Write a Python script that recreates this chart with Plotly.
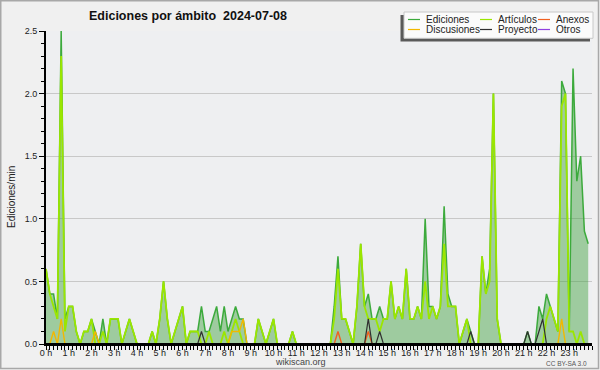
import plotly.graph_objects as go

# ---------------- data (10-minute steps, edits per minute) ----------------
hour_labels = ["0 h", "1 h", "2 h", "3 h", "4 h", "5 h", "6 h", "7 h", "8 h", "9 h",
               "10 h", "11 h", "12 h", "13 h", "14 h", "15 h", "16 h", "17 h", "18 h",
               "19 h", "20 h", "21 h", "22 h", "23 h"]

series_names = ["Ediciones", "Artículos", "Anexos", "Discusiones", "Proyecto", "Otros"]

ediciones = [
    0.6, 0.4, 0.4, 0.2, 2.5, 0.2,  0.3, 0.3, 0.1, 0.0, 0.1, 0.1,
    0.2, 0.1, 0.0, 0.2, 0.0, 0.2,  0.2, 0.2, 0.0, 0.1, 0.2, 0.1,
    0.0, 0.0, 0.0, 0.0, 0.1, 0.0,  0.2, 0.5, 0.2, 0.0, 0.1, 0.2,
    0.3, 0.0, 0.1, 0.1, 0.1, 0.3,  0.1, 0.1, 0.2, 0.3, 0.1, 0.3,
    0.1, 0.2, 0.3, 0.2, 0.2, 0.0,  0.0, 0.0, 0.2, 0.1, 0.0, 0.1,
    0.2, 0.0, 0.0, 0.0, 0.0, 0.1,  0.0, 0.0, 0.0, 0.0, 0.0, 0.0,
    0.0, 0.0, 0.0, 0.0, 0.3, 0.7,  0.2, 0.2, 0.1, 0.0, 0.3, 0.8,
    0.3, 0.4, 0.2, 0.2, 0.3, 0.2,  0.2, 0.5, 0.2, 0.3, 0.2, 0.6,
    0.2, 0.2, 0.3, 0.2, 1.0, 0.3,  0.3, 0.2, 0.3, 1.1, 0.4, 0.3,
    0.3, 0.0, 0.1, 0.2, 0.1, 0.0,  0.0, 0.7, 0.4, 0.6, 2.0, 0.2,
    0.0, 0.0, 0.0, 0.0, 0.0, 0.0,  0.0, 0.1, 0.0, 0.0, 0.3, 0.2,
    0.4, 0.3, 0.2, 0.1, 2.1, 2.0,  0.1, 2.2, 1.3, 1.5, 0.9, 0.8,
]

articulos = [
    0.6, 0.4, 0.3, 0.2, 2.3, 0.1,  0.3, 0.3, 0.1, 0.0, 0.1, 0.1,
    0.2, 0.0, 0.0, 0.1, 0.0, 0.2,  0.2, 0.2, 0.0, 0.1, 0.2, 0.1,
    0.0, 0.0, 0.0, 0.0, 0.1, 0.0,  0.2, 0.5, 0.2, 0.0, 0.1, 0.2,
    0.3, 0.0, 0.1, 0.1, 0.1, 0.0,  0.0, 0.1, 0.0, 0.0, 0.0, 0.1,
    0.0, 0.1, 0.2, 0.1, 0.0, 0.0,  0.0, 0.0, 0.2, 0.1, 0.0, 0.1,
    0.2, 0.0, 0.0, 0.0, 0.0, 0.1,  0.0, 0.0, 0.0, 0.0, 0.0, 0.0,
    0.0, 0.0, 0.0, 0.0, 0.2, 0.6,  0.2, 0.2, 0.1, 0.0, 0.3, 0.8,
    0.3, 0.2, 0.2, 0.2, 0.1, 0.2,  0.2, 0.5, 0.2, 0.3, 0.2, 0.6,
    0.2, 0.2, 0.3, 0.2, 0.5, 0.2,  0.3, 0.2, 0.3, 0.8, 0.3, 0.3,
    0.3, 0.0, 0.1, 0.2, 0.0, 0.0,  0.0, 0.7, 0.4, 0.5, 2.0, 0.2,
    0.0, 0.0, 0.0, 0.0, 0.0, 0.0,  0.0, 0.0, 0.0, 0.0, 0.0, 0.0,
    0.2, 0.3, 0.2, 0.1, 1.9, 2.0,  0.1, 0.1, 0.0, 0.1, 0.0, 0.0,
]

anexos = [
    0.0, 0.0, 0.0, 0.0, 0.0, 0.0,  0.0, 0.0, 0.0, 0.0, 0.0, 0.0,
    0.0, 0.0, 0.0, 0.0, 0.0, 0.0,  0.0, 0.0, 0.0, 0.0, 0.0, 0.0,
    0.0, 0.0, 0.0, 0.0, 0.0, 0.0,  0.0, 0.0, 0.0, 0.0, 0.0, 0.0,
    0.0, 0.0, 0.0, 0.0, 0.0, 0.0,  0.0, 0.0, 0.0, 0.0, 0.0, 0.0,
    0.0, 0.0, 0.0, 0.0, 0.0, 0.0,  0.0, 0.0, 0.0, 0.0, 0.0, 0.0,
    0.0, 0.0, 0.0, 0.0, 0.0, 0.0,  0.0, 0.0, 0.0, 0.0, 0.0, 0.0,
    0.0, 0.0, 0.0, 0.0, 0.0, 0.1,  0.0, 0.0, 0.0, 0.0, 0.0, 0.0,
    0.0, 0.1, 0.0, 0.0, 0.0, 0.0,  0.0, 0.0, 0.0, 0.0, 0.0, 0.0,
    0.0, 0.0, 0.0, 0.0, 0.0, 0.0,  0.0, 0.0, 0.0, 0.0, 0.0, 0.0,
    0.0, 0.0, 0.0, 0.0, 0.0, 0.0,  0.0, 0.0, 0.0, 0.0, 0.0, 0.0,
    0.0, 0.0, 0.0, 0.0, 0.0, 0.0,  0.0, 0.0, 0.0, 0.0, 0.0, 0.0,
    0.0, 0.0, 0.0, 0.0, 0.0, 0.0,  0.0, 0.0, 0.0, 0.0, 0.0, 0.0,
]

discusiones = [
    0.0, 0.0, 0.1, 0.0, 0.2, 0.0,  0.0, 0.0, 0.0, 0.0, 0.0, 0.0,
    0.0, 0.1, 0.0, 0.0, 0.0, 0.0,  0.0, 0.0, 0.0, 0.0, 0.0, 0.0,
    0.0, 0.0, 0.0, 0.0, 0.0, 0.0,  0.0, 0.0, 0.0, 0.0, 0.0, 0.0,
    0.0, 0.0, 0.0, 0.0, 0.0, 0.0,  0.0, 0.0, 0.0, 0.0, 0.0, 0.0,
    0.0, 0.1, 0.1, 0.1, 0.2, 0.0,  0.0, 0.0, 0.0, 0.0, 0.0, 0.0,
    0.0, 0.0, 0.0, 0.0, 0.0, 0.0,  0.0, 0.0, 0.0, 0.0, 0.0, 0.0,
    0.0, 0.0, 0.0, 0.0, 0.0, 0.0,  0.0, 0.0, 0.0, 0.0, 0.0, 0.0,
    0.0, 0.0, 0.0, 0.0, 0.0, 0.0,  0.0, 0.0, 0.0, 0.0, 0.0, 0.0,
    0.0, 0.0, 0.0, 0.0, 0.0, 0.0,  0.0, 0.0, 0.0, 0.0, 0.0, 0.0,
    0.0, 0.0, 0.0, 0.0, 0.0, 0.0,  0.0, 0.0, 0.0, 0.0, 0.0, 0.0,
    0.0, 0.0, 0.0, 0.0, 0.0, 0.0,  0.0, 0.0, 0.0, 0.0, 0.0, 0.0,
    0.0, 0.0, 0.0, 0.0, 0.2, 0.0,  0.0, 0.0, 0.0, 0.0, 0.0, 0.0,
]

proyecto = [
    0.0, 0.0, 0.0, 0.0, 0.0, 0.0,  0.0, 0.0, 0.0, 0.0, 0.0, 0.0,
    0.0, 0.0, 0.0, 0.0, 0.0, 0.0,  0.0, 0.0, 0.0, 0.0, 0.0, 0.0,
    0.0, 0.0, 0.0, 0.0, 0.0, 0.0,  0.0, 0.0, 0.0, 0.0, 0.0, 0.0,
    0.0, 0.0, 0.0, 0.0, 0.0, 0.1,  0.0, 0.0, 0.0, 0.0, 0.0, 0.0,
    0.0, 0.0, 0.0, 0.0, 0.0, 0.0,  0.0, 0.0, 0.0, 0.0, 0.0, 0.0,
    0.0, 0.0, 0.0, 0.0, 0.0, 0.0,  0.0, 0.0, 0.0, 0.0, 0.0, 0.0,
    0.0, 0.0, 0.0, 0.0, 0.0, 0.0,  0.0, 0.0, 0.0, 0.0, 0.0, 0.0,
    0.0, 0.2, 0.0, 0.0, 0.1, 0.0,  0.0, 0.0, 0.0, 0.0, 0.0, 0.0,
    0.0, 0.0, 0.0, 0.0, 0.0, 0.0,  0.0, 0.0, 0.0, 0.0, 0.0, 0.0,
    0.0, 0.0, 0.0, 0.0, 0.1, 0.0,  0.0, 0.0, 0.0, 0.0, 0.0, 0.0,
    0.0, 0.0, 0.0, 0.0, 0.0, 0.0,  0.0, 0.1, 0.0, 0.0, 0.1, 0.2,
    0.0, 0.0, 0.0, 0.0, 0.0, 0.0,  0.0, 0.0, 0.0, 0.0, 0.0, 0.0,
]

otros = [
    0.0, 0.0, 0.0, 0.0, 0.0, 0.0,  0.0, 0.0, 0.0, 0.0, 0.0, 0.0,
    0.0, 0.0, 0.0, 0.0, 0.0, 0.0,  0.0, 0.0, 0.0, 0.0, 0.0, 0.0,
    0.0, 0.0, 0.0, 0.0, 0.0, 0.0,  0.0, 0.0, 0.0, 0.0, 0.0, 0.0,
    0.0, 0.0, 0.0, 0.0, 0.0, 0.0,  0.0, 0.0, 0.0, 0.0, 0.0, 0.0,
    0.0, 0.0, 0.0, 0.0, 0.0, 0.0,  0.0, 0.0, 0.0, 0.0, 0.0, 0.0,
    0.0, 0.0, 0.0, 0.0, 0.0, 0.0,  0.0, 0.0, 0.0, 0.0, 0.0, 0.0,
    0.0, 0.0, 0.0, 0.0, 0.0, 0.0,  0.0, 0.0, 0.0, 0.0, 0.0, 0.0,
    0.0, 0.0, 0.0, 0.0, 0.0, 0.0,  0.0, 0.0, 0.0, 0.0, 0.0, 0.0,
    0.0, 0.0, 0.0, 0.0, 0.0, 0.0,  0.0, 0.0, 0.0, 0.0, 0.0, 0.0,
    0.0, 0.0, 0.0, 0.0, 0.0, 0.0,  0.0, 0.0, 0.0, 0.0, 0.0, 0.0,
    0.0, 0.0, 0.0, 0.0, 0.0, 0.0,  0.0, 0.0, 0.0, 0.0, 0.0, 0.0,
    0.0, 0.0, 0.0, 0.0, 0.0, 0.0,  0.0, 0.0, 0.0, 0.0, 0.0, 0.0,
]

# time axis: minutes since midnight, one sample every 10 minutes
minutes = [10 * k for k in range(len(ediciones))]
hour_ticks = [60 * h for h in range(len(hour_labels))]

# ---------------- styling ----------------
W, H = 600, 370
L, R, T, B = 46, 8, 31, 26
PW, PH = W - L - R, H - T - B


def px(x):
    return (x - L) / PW


def py(y):
    return (H - B - y) / PH


COLORS = {
    "Ediciones": "#3caa3c",
    "Artículos": "#9be600",
    "Anexos": "#f06020",
    "Discusiones": "#f2b800",
    "Proyecto": "#303030",
    "Otros": "#9040e0",
}
FILL_ED = "rgba(60,160,60,0.45)"
FONT = "Liberation Sans"

values = {
    "Ediciones": ediciones,
    "Artículos": articulos,
    "Anexos": anexos,
    "Discusiones": discusiones,
    "Proyecto": proyecto,
    "Otros": otros,
}

fig = go.Figure()
fig.add_trace(go.Scatter(
    x=minutes, y=ediciones, name="Ediciones", mode="lines",
    line=dict(color=COLORS["Ediciones"], width=1.5),
    fill="tozeroy", fillcolor=FILL_ED, hoverinfo="skip", showlegend=False))

draw_order = [("Artículos", 1.8), ("Discusiones", 1.4), ("Anexos", 1.4),
              ("Proyecto", 1.2), ("Otros", 1.2)]
for name, w in draw_order:
    fig.add_trace(go.Scatter(
        x=minutes, y=values[name], name=name, mode="lines",
        line=dict(color=COLORS[name], width=w),
        hoverinfo="skip", showlegend=False))

shapes = []
annotations = []

# baseline above traces (hides zero segments, like the axis in the reference)
shapes.append(dict(type="line", xref="paper", yref="y", x0=0, x1=1, y0=0, y1=0,
                   line=dict(color="#000", width=2), layer="above"))

# outer border
shapes.append(dict(type="rect", xref="paper", yref="paper",
                   x0=px(0.75), x1=px(598.5), y0=py(0.75), y1=py(368.5),
                   line=dict(color="#a8a8a8", width=1.5), fillcolor="rgba(0,0,0,0)",
                   layer="below"))

# legend box with shadow
shapes.append(dict(type="rect", xref="paper", yref="paper",
                   x0=px(400.5), x1=px(590), y0=py(15), y1=py(41.5),
                   line=dict(width=0), fillcolor="#5a5a5a", layer="above"))
shapes.append(dict(type="rect", xref="paper", yref="paper",
                   x0=px(404), x1=px(593), y0=py(12), y1=py(38.3),
                   line=dict(color="#c8c8c8", width=1), fillcolor="#fbfbfb", layer="above"))

legend_layout = [
    ("Ediciones", 408, 19.5), ("Artículos", 480, 19.5), ("Anexos", 538, 19.5),
    ("Discusiones", 408, 29.5), ("Proyecto", 480, 29.5), ("Otros", 538, 29.5),
]
for name, lx, ly in legend_layout:
    shapes.append(dict(type="line", xref="paper", yref="paper",
                       x0=px(lx), x1=px(lx + 12), y0=py(ly), y1=py(ly),
                       line=dict(color=COLORS[name], width=1.2), layer="above"))
    annotations.append(dict(text=name, xref="paper", yref="paper",
                            x=px(lx + 16), y=py(ly), xanchor="left", yanchor="middle",
                            showarrow=False, font=dict(family=FONT, size=10, color="#222")))

# title
annotations.append(dict(text="<b>Ediciones por ámbito&nbsp; 2024-07-08</b>",
                        xref="paper", yref="paper", x=px(188), y=py(16),
                        xanchor="center", yanchor="middle", showarrow=False,
                        font=dict(family=FONT, size=12.5, color="#111")))
# y axis title
annotations.append(dict(text="Ediciones/min", xref="paper", yref="paper",
                        x=px(11), y=py(197), xanchor="center", yanchor="middle",
                        textangle=-90, showarrow=False,
                        font=dict(family=FONT, size=10, color="#222")))
# footer
annotations.append(dict(text="wikiscan.org", xref="paper", yref="paper",
                        x=px(300), y=py(362), xanchor="center", yanchor="middle",
                        showarrow=False, font=dict(family=FONT, size=9, color="#444")))
annotations.append(dict(text="CC BY-SA 3.0", xref="paper", yref="paper",
                        x=px(589), y=py(363), xanchor="right", yanchor="middle",
                        showarrow=False, font=dict(family=FONT, size=6.5, color="#555")))

fig.update_layout(
    width=W, height=H,
    margin=dict(l=L, r=R, t=T, b=B, pad=0),
    paper_bgcolor="#f0f0f0", plot_bgcolor="#eeeff1",
    showlegend=False,
    font=dict(family=FONT, size=9, color="#222"),
    shapes=shapes, annotations=annotations,
)

fig.update_xaxes(
    range=[0, 1440], tickmode="array", tickvals=hour_ticks, ticktext=hour_labels,
    ticks="outside", ticklen=4, tickwidth=1, tickcolor="#000",
    ticklabelstandoff=-5,
    showline=True, linecolor="#000", linewidth=2,
    showgrid=False, zeroline=False,
    tickfont=dict(family=FONT, size=9, color="#222"),
    minor=dict(tickmode="linear", tick0=0, dtick=10, ticks="outside", ticklen=4,
               tickwidth=1, tickcolor="#000", showgrid=False),
    fixedrange=True,
)
fig.update_yaxes(
    range=[0, 2.5], tickmode="linear", tick0=0, dtick=0.5, tickformat=".1f",
    ticks="outside", ticklen=5, tickwidth=1, tickcolor="#000",
    showline=True, linecolor="#000", linewidth=2,
    showgrid=True, gridcolor="#c8c8c8", gridwidth=1, zeroline=False,
    tickfont=dict(family=FONT, size=9, color="#222"),
    minor=dict(tickmode="linear", tick0=0, dtick=0.1, ticks="outside", ticklen=3,
               tickwidth=1, tickcolor="#000", showgrid=False),
    fixedrange=True,
)

fig.write_html(
    "out.html",
    config={"displayModeBar": False, "staticPlot": True},
    post_script="document.body.style.margin='0';document.body.style.overflow='hidden';",
)
